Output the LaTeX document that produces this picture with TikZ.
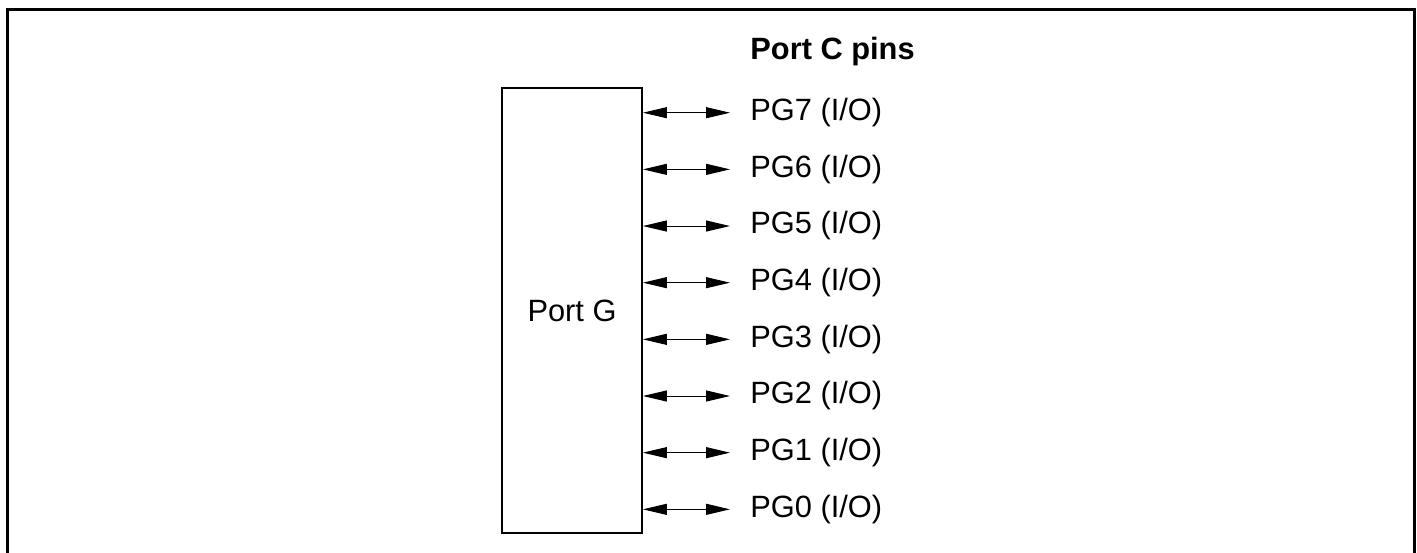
\documentclass[tikz,border=0pt]{standalone}
\usepackage{fontspec}
\setmainfont{Liberation Sans}
\usepackage{tikz}
\usetikzlibrary{arrows.meta, positioning}

\begin{document}
\begin{tikzpicture}[x=0.5pt, y=-0.5pt,
    portbox/.style={draw, line width=0.9pt, minimum width=70pt, minimum height=222.5pt, inner sep=0pt},
    pinlabel/.style={anchor=west, inner sep=0pt},
    pinarrow/.style={{Triangle[length=12pt,width=5.5pt]}-{Triangle[length=12pt,width=5.5pt]}, line width=0.5pt, shorten >=10pt},
    font=\fontsize{15.4}{18}\selectfont]
  \useasboundingbox (0,0) rectangle (1417,552);
  \clip (0,0) rectangle (1417,552);
  % outer frame, open at the bottom
  \draw[line width=1.8pt] (7.3,570) -- (7.3,9.3) -- (1414.5,9.3) -- (1414.5,570);
  \node[portbox] (portg) at (572,310.8) {Port G};
  \node[pinlabel, font=\fontsize{15.4}{18}\selectfont\bfseries] (title) at (750,52) {Port C pins};
  \foreach \i in {7,...,0}{
    \pgfmathsetmacro\py{112.7+(7-\i)*56.66}
    \node[pinlabel] (pin\i) at (750,\py) {PG\i{} (I/O)};
    \draw[pinarrow] (portg.east |- pin\i.west) -- (pin\i.west);
  }
\end{tikzpicture}
\end{document}
